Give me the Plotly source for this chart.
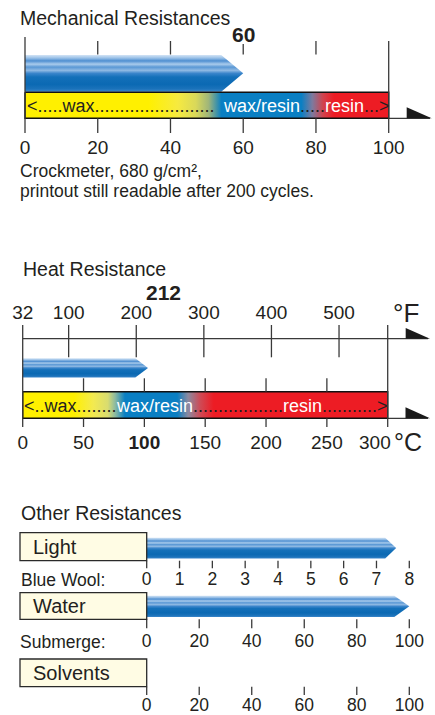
import plotly.graph_objects as go

W, H = 435, 715
FONT = "Liberation Sans, Arial, Helvetica, sans-serif"
TXT = "#231f20"
TICKC = "#3a3a3a"
YEL, BLU, RED = "#fff000", "#0a7fc3", "#ed1c24"

# ---------------- data ----------------
mech_ticks = [0, 20, 40, 60, 80, 100]
mech_value = 60
mech_zone_pos = [0, 34, 42, 47, 50.5, 54, 76, 79, 82, 85, 100]
mech_zone_col = [YEL, YEL, "#f6ea40", "#d9d85a", "#9fb57a", BLU, BLU, "#7d7a9e", "#d2424c", RED, RED]

heat_c_ticks = [0, 50, 100, 150, 200, 250, 300]
heat_c_text = ["0", "50", "<b>100</b>", "150", "200", "250", "300"]
heat_f_ticks = [32, 100, 200, 300, 400, 500]
heat_value_c = 103
heat_label_f = 212
heat_zone_pos = [0, 42, 58, 70, 76, 84, 127, 136, 146, 157, 300]
heat_zone_col = [YEL, YEL, "#f3ea50", "#d8dc70", "#8cbaa0", BLU, BLU, "#8c8aa0", "#cf4a55", RED, RED]

wool_ticks = [0, 1, 2, 3, 4, 5, 6, 7, 8]
light_value = 7.6
submerge_ticks = [0, 20, 40, 60, 80, 100]
water_value = 100
solvent_ticks = [0, 20, 40, 60, 80, 100]

ARROW_CS = [[0, "#d3e4f5"], [0.08, "#9cc2e8"], [0.16, "#4f8fd1"], [0.25, "#a9cbec"],
            [0.33, "#5a98d5"], [0.42, "#8fb9e3"], [0.5, "#3b85cb"], [0.6, "#1470b9"],
            [0.8, "#0b69b3"], [0.92, "#1a72ba"], [1, "#3b86c9"]]

# ---------------- helpers ----------------
def axis_range(p0, p1, v0, v1):
    s = (p1 - p0) / (v1 - v0)
    return [v0 - p0 / s, v0 + (W - p0) / s], s

def px(p):
    return p / W

mech_rng, mech_s = axis_range(25, 388.7, 0, 100)
heat_rng, heat_s = axis_range(22.7, 387.7, 0, 300)
f_rng = [32 + 1.8 * heat_rng[0], 32 + 1.8 * heat_rng[1]]
wool_rng, wool_s = axis_range(146.7, 409.3, 0, 8)
sub_rng, sub_s = axis_range(146.7, 409.3, 0, 100)

fig = go.Figure()

def ticklines(xa, vals, segs):
    xs, ys = [], []
    for v, ss in zip(vals, segs):
        for (a, b) in ss:
            xs += [v, v, None]
            ys += [a, b, None]
    fig.add_trace(go.Scatter(x=xs, y=ys, xaxis=xa, yaxis="y", mode="lines",
                             line=dict(color=TICKC, width=1.3), hoverinfo="skip", showlegend=False))

def arrow(xa, value, d_px, scale, ytop, ybot):
    d = d_px / scale
    ym = (ytop + ybot) / 2
    fig.add_trace(go.Scatter(
        x=[0, value - d, value, value - d, 0, 0], y=[ytop, ytop, ym, ybot, ybot, ytop],
        xaxis=xa, yaxis="y", mode="lines", fill="toself", line=dict(width=0, color="rgba(0,0,0,0)"),
        fillgradient=dict(type="vertical", colorscale=ARROW_CS, start=ytop, stop=ybot),
        hoverinfo="skip", showlegend=False))

def zonebar(xa, vmax, pos, cols, ytop, ybot):
    cs = [[p / vmax, c] for p, c in zip(pos, cols)]
    fig.add_trace(go.Scatter(
        x=[0, vmax, vmax, 0, 0], y=[ytop, ytop, ybot, ybot, ytop],
        xaxis=xa, yaxis="y", mode="lines", fill="toself", line=dict(width=1.4, color="#111"),
        fillgradient=dict(type="horizontal", colorscale=cs, start=0, stop=vmax),
        hoverinfo="skip", showlegend=False))

# ---------------- Mechanical ----------------
arrow("x", mech_value, 22, mech_s, 55, 91.7)
zonebar("x", 100, mech_zone_pos, mech_zone_col, 92.3, 118.3)
segs = []
for v in mech_ticks:
    if v == 0:
        segs.append([(37, 133)])
    elif v == 100:
        segs.append([(41, 133)])
    elif v == mech_value:
        segs.append([(44, 54.5), (118.3, 133)])
    else:
        segs.append([(41, 54.5), (118.3, 133)])
ticklines("x", mech_ticks, segs)

# ---------------- Heat ----------------
arrow("x2", heat_value_c, 12.7, heat_s, 358.3, 377.5)
zonebar("x2", 300, heat_zone_pos, heat_zone_col, 391.7, 418.3)
segs = []
for v in heat_c_ticks:
    if v in (0, 300):
        segs.append([(325, 427)])
    else:
        segs.append([(378.3, 391.7), (418.3, 427)])
ticklines("x2", heat_c_ticks, segs)
ticklines("x3", heat_f_ticks[1:], [[(325, 357.3)]] * (len(heat_f_ticks) - 1))

# ---------------- Other ----------------
arrow("x4", light_value, 11, wool_s, 537.7, 558.5)
arrow("x5", water_value, 15, sub_s, 595.7, 617)
ticklines("x4", wool_ticks, [[(560.7, 568.3)]] * len(wool_ticks))
ticklines("x5", submerge_ticks, [[(619.3, 628.3)]] * len(submerge_ticks))
ticklines("x6", solvent_ticks, [[(686.7, 695)]] * len(solvent_ticks))

# ---------------- axes ----------------
def xax(rng, vals, text, pos_px, side="bottom", size=19, over=True):
    d = dict(domain=[0, 1], range=rng, anchor="free", position=1 - pos_px / H, side=side,
             tickvals=vals, ticktext=text, ticks="", showgrid=False, zeroline=False,
             showline=False, automargin=False,
             tickfont=dict(family=FONT, size=size, color=TXT), fixedrange=True)
    if over:
        d["overlaying"] = "x"
    return d

lay = dict(
    width=W, height=H, margin=dict(l=0, r=0, t=0, b=0, autoexpand=False),
    paper_bgcolor="white", plot_bgcolor="rgba(0,0,0,0)",
    showlegend=False, hovermode=False,
    yaxis=dict(domain=[0, 1], range=[H, 0], visible=False, fixedrange=True, automargin=False),
    xaxis=xax(mech_rng, mech_ticks, [str(v) for v in mech_ticks], 133.5, over=False),
    # last Celsius label is drawn separately (it sits left of its tick, next to °C)
    xaxis2=xax(heat_rng, heat_c_ticks[:-1], heat_c_text[:-1], 428.5),
    xaxis3=xax(f_rng, heat_f_ticks, [str(v) for v in heat_f_ticks], 323, side="top"),
    xaxis4=xax(wool_rng, wool_ticks, [str(v) for v in wool_ticks], 566.5, size=17.5),
    xaxis5=xax(sub_rng, submerge_ticks, [str(v) for v in submerge_ticks], 628.5, size=17.5),
    xaxis6=xax(sub_rng, solvent_ticks, [str(v) for v in solvent_ticks], 692.5, size=17.5),
)
fig.update_layout(**lay)

# ---------------- shapes ----------------
shapes = []
def hline(y, x0, x1):
    shapes.append(dict(type="line", xref="paper", yref="y", x0=px(x0), x1=px(x1), y0=y, y1=y,
                       line=dict(color=TICKC, width=1.3), layer="below"))
def tri(x0, x1, ytop, ybot):
    shapes.append(dict(type="path", xref="paper", yref="y",
                       path=f"M {px(x0)},{ytop} L {px(x1)},{ybot} L {px(x0)},{ybot} Z",
                       fillcolor="#1a1a1a", line=dict(width=0)))
hline(118.3, 25, 430); tri(406.7, 431.7, 107.3, 118.3)
hline(338.7, 22.7, 428); tri(405.7, 430, 328, 338.7)
hline(418.3, 22.7, 428); tri(405.5, 430, 407.3, 418.3)
for (y0, y1) in [(532.7, 560.7), (592.7, 619.3), (659, 686.7)]:
    shapes.append(dict(type="rect", xref="paper", yref="y", x0=px(20), x1=px(146.7), y0=y0, y1=y1,
                       fillcolor="#fffce4", line=dict(color="#2a2a2a", width=1.3)))
fig.update_layout(shapes=shapes)

# ---------------- annotations ----------------
def ann(text, x, y, size, xref="paper", xanchor="left", color=TXT, xshift=0):
    fig.add_annotation(text=text, x=x, y=y, xref=xref, yref="y", xanchor=xanchor, yanchor="middle",
                       showarrow=False, xshift=xshift, borderpad=0,
                       font=dict(family=FONT, size=size, color=color))

ann("Mechanical Resistances", px(19), 17.5, 19.5)
ann(f"<b>{mech_value}</b>", mech_value, 34.3, 21, xref="x", xanchor="center")
ann("Crockmeter, 680 g/cm²,", px(19), 170.5, 17.5)
ann("printout still readable after 200 cycles.", px(19), 190.5, 17.5)
W_ = "color:white"
ann("&lt;.....wax........................", 0.3, 105.8, 18, xref="x")
ann(f"<span style='{W_}'>wax/resin</span>.....<span style='{W_}'>resin</span>...&gt;", 54.1, 105.8, 18, xref="x")

ann("Heat Resistance", px(22), 269, 19.5)
ann(f"<b>{heat_label_f}</b>", heat_label_f, 292.7, 21, xref="x3", xanchor="left", xshift=1)
ann("°F", px(405.7), 313, 26, xanchor="center")
ann(heat_c_text[-1], heat_c_ticks[-1], 442, 19, xref="x2", xanchor="right", xshift=4)
ann("°C", px(393), 442, 25, xanchor="left")
ann("&lt;..wax........", 0.3, 405.5, 18, xref="x2")
ann(f"<span style='{W_}'>wax/resin</span>..................<span style='{W_}'>resin</span>...........&gt;",
    75.8, 405.5, 18, xref="x2")

ann("Other Resistances", px(19.5), 512.7, 19.5)
ann("Light", px(32.3), 546.7, 20)
ann("Water", px(32.3), 606, 20)
ann("Solvents", px(32.3), 672.8, 20)
ann("Blue Wool:", px(19.5), 580, 17.5)
ann("Submerge:", px(19.3), 642, 17.5)

fig.write_html("out.html", config=dict(displayModeBar=False),
               post_script="document.body.style.margin='0px';document.body.style.overflow='hidden';")
